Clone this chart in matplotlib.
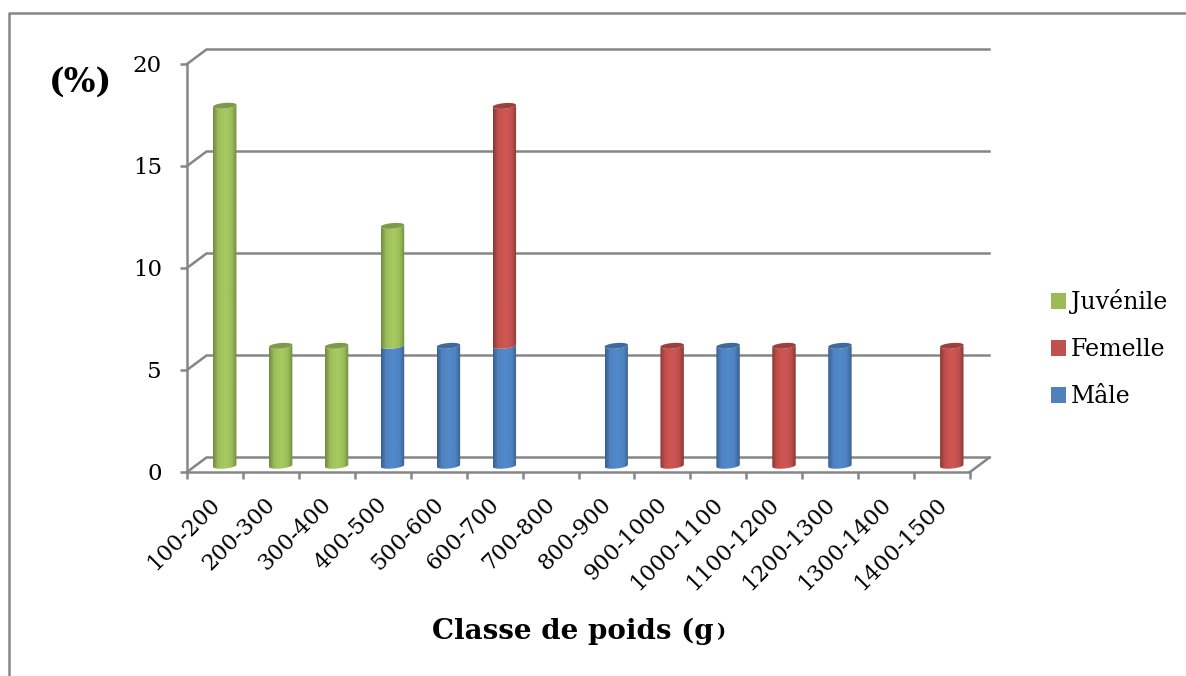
import numpy as np
import matplotlib
matplotlib.use("Agg")
import matplotlib.pyplot as plt
from matplotlib.colors import LinearSegmentedColormap
from matplotlib.patches import Patch, Polygon

classes = ["100-200", "200-300", "300-400", "400-500", "500-600", "600-700", "700-800",
           "800-900", "900-1000", "1000-1100", "1100-1200", "1200-1300", "1300-1400", "1400-1500"]
male = [0, 0, 0, 5.88, 5.88, 5.88, 0, 5.88, 0, 5.88, 0, 5.88, 0, 0]
female = [0, 0, 0, 0, 0, 11.76, 0, 0, 5.88, 0, 5.88, 0, 0, 5.88]
juvenile = [17.65, 5.88, 5.88, 5.88, 0, 0, 0, 0, 0, 0, 0, 0, 0, 0]
y_ticks = [0, 5, 10, 15, 20]

W, H = 1186, 676
GREY = "#868686"
plt.rcParams["font.family"] = ["DejaVu Serif"]

fig = plt.figure(figsize=(W / 100, H / 100), dpi=100)
# front plane of the fake 3d box, in pixels of the reference
left, right, top, bottom = 187, 970, 64, 472
ax = fig.add_axes([left / W, 1 - bottom / H, (right - left) / W, (bottom - top) / H])
ax.set_xlim(0, 14)
ax.set_ylim(0, 20)
ax.patch.set_alpha(0)

# depth of the box in data units
dx = 19.5 / (right - left) * 14
dy = 14.5 / (bottom - top) * 20

for s in ["top", "right"]:
    ax.spines[s].set_visible(False)
for s in ["left", "bottom"]:
    ax.spines[s].set_color(GREY)
    ax.spines[s].set_linewidth(1.8)
ax.set_yticks(y_ticks)
ax.set_xticks(np.arange(15))
ax.set_xticklabels([])
ax.tick_params(axis="both", color=GREY, width=1.8, length=5)
ax.tick_params(axis="y", labelsize=16.5, pad=13)

for i, name in enumerate(classes):
    ax.annotate(name, (i + 0.5, 0), xytext=(1, -21), textcoords="offset points",
                rotation=45, rotation_mode="anchor", ha="right", va="center",
                fontsize=16, annotation_clip=False)

# walls and floor
for v in y_ticks:
    ax.plot([0, dx, 14 + dx], [v, v + dy, v + dy], color=GREY, lw=1.8, clip_on=False, zorder=1,
            solid_joinstyle="miter")
ax.plot([14, 14 + dx], [0, dy], color=GREY, lw=1.8, clip_on=False, zorder=1)

base_cols = {"m": "#4f81bd", "f": "#c0504d", "j": "#9bbb59"}
light_cols = {"m": "#5288c8", "f": "#cd5653", "j": "#a5c860"}
dark_cols = {"m": "#365f8f", "f": "#8a3634", "j": "#6f8a3e"}
top_cols = {"m": "#3f6a9e", "f": "#9c3f3d", "j": "#7d9a48"}

half_w = 11.7 / (right - left) * 14
arc_b = 2.8 / (bottom - top) * 20
arc_s = 1.0 / (bottom - top) * 20


def arc(xc, yc, t):
    return np.column_stack([xc + half_w * np.cos(t), yc + arc_b * np.sin(t) + arc_s * np.cos(t)])


def draw_segment(xc, y0, y1, key, z):
    # front half of the cylinder between y0 and y1, with a horizontal shading
    t_low = np.linspace(np.pi, 2 * np.pi, 30)
    t_up = np.linspace(2 * np.pi, np.pi, 30)
    pts = np.vstack([arc(xc, y0, t_low), arc(xc, y1, t_up)])
    cmap = LinearSegmentedColormap.from_list(
        key, [dark_cols[key], base_cols[key], light_cols[key], light_cols[key], base_cols[key], dark_cols[key]])
    im = ax.imshow(np.linspace(0, 1, 64)[None, :], cmap=cmap, aspect="auto", zorder=z,
                   extent=[xc - half_w, xc + half_w, y0 - arc_b - arc_s, y1 + arc_b + arc_s])
    clip = Polygon(pts, closed=True, transform=ax.transData, fill=False, edgecolor="none")
    ax.add_patch(clip)
    im.set_clip_path(clip)


for i in range(len(classes)):
    xc = i + 0.5 + dx / 2
    y0 = dy / 2 - 0.05
    last = None
    # juvenile is stacked on top of female, female on male
    for val, key in [(male[i], "m"), (female[i], "f"), (juvenile[i], "j")]:
        if val > 0:
            draw_segment(xc, y0, y0 + val, key, 3)
            y0 += val
            last = key
    if last:
        cap = arc(xc, y0, np.linspace(0, 2 * np.pi, 60))
        ax.add_patch(Polygon(cap, closed=True, facecolor=top_cols[last], edgecolor="none", zorder=4))

ax.set_xlim(0, 14)
ax.set_ylim(0, 20)

# frame around the chart, only top and left are on the picture
fig.add_artist(plt.Line2D([9 / W, 9 / W, 1], [0, 1 - 13 / H, 1 - 13 / H], color=GREY, lw=1.8))

fig.text(80 / W, 1 - 82 / H, "(%)", fontsize=24, fontweight="bold", ha="center", va="center")
fig.text(432 / W, 1 - 631 / H, "Classe de poids (g", fontsize=20, fontweight="bold", ha="left", va="center")
fig.text(716 / W, 1 - 632 / H, ")", fontsize=14, fontweight="bold", ha="left", va="center")

handles = [Patch(facecolor=base_cols["j"], label="Juvénile"),
           Patch(facecolor=base_cols["f"], label="Femelle"),
           Patch(facecolor=base_cols["m"], label="Mâle")]
fig.legend(handles=handles, loc="upper left", bbox_to_anchor=(1051 / W, 1 - 289 / H), frameon=False,
           fontsize=17, handlelength=0.64, handleheight=0.64, handletextpad=0.2, labelspacing=1.02,
           borderpad=0, borderaxespad=0)

fig.savefig("out.png", dpi=100)
